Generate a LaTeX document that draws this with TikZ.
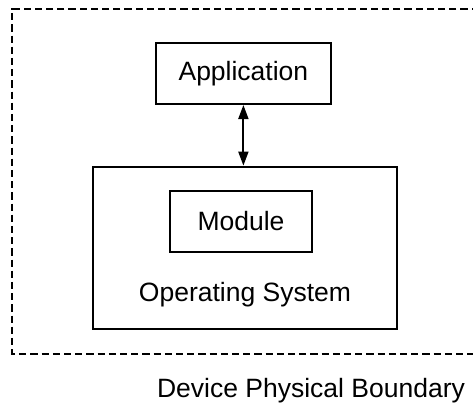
\documentclass[tikz,border=0pt]{standalone}
\usepackage{fontspec}
\setmainfont{Liberation Sans}
\usetikzlibrary{arrows.meta}
\usetikzlibrary{positioning}
\tikzset{
	boite/.style={draw, line width=1pt, inner sep=0pt, font=\fontsize{13.25}{16}\selectfont},
	texte/.style={font=\fontsize{13.25}{16}\selectfont, inner sep=0pt, anchor=base}
}
\begin{document}
\begin{tikzpicture}[x=0.5pt,y=-0.5pt]
	\clip (0,0) rectangle (473,404);
	%
	% limite physique
	\draw[dash pattern=on 3.6pt off 2pt, line width=1pt] (490,9) -- (12.5,9) -- (12.5,353.5) -- (490,353.5);
	\node[texte] at (311,397.3) (limite) {Device Physical Boundary};
	%
	\node[boite, minimum width=87.6pt, minimum height=30.3pt] at (243.4,73.7) (app) {Application};
	\node[boite, minimum width=151.8pt, minimum height=81.2pt] at (245.2,247.8) (os) {};
	\node[boite, minimum width=70.7pt, minimum height=30.5pt] at (241,221.5) (module) {Module};
	\node[texte] at (245,301.7) (oslabel) {Operating System};
	%
	\draw[{Triangle[length=7pt,width=5pt]}-{Triangle[length=7pt,width=5pt]}, line width=0.9pt] (app.south) -- (app.south |- os.north);
	%
\end{tikzpicture}
\end{document}
